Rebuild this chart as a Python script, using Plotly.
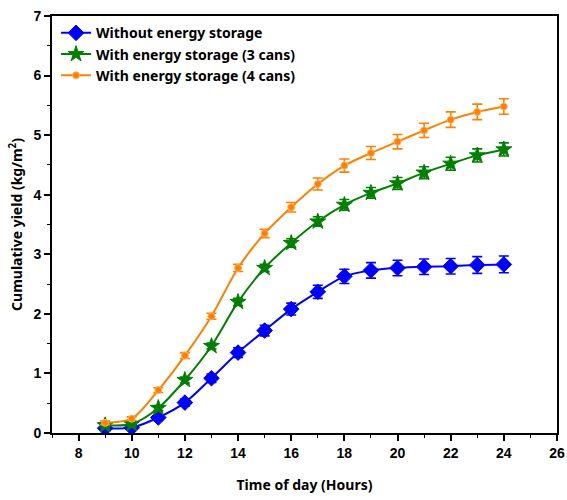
import plotly.graph_objects as go

hours = [9, 10, 11, 12, 13, 14, 15, 16, 17, 18, 19, 20, 21, 22, 23, 24]
no_storage = [0.08, 0.09, 0.26, 0.51, 0.92, 1.35, 1.72, 2.08, 2.37, 2.63, 2.73, 2.77, 2.79, 2.80, 2.82, 2.83]
no_storage_err = [0.03, 0.03, 0.05, 0.06, 0.07, 0.08, 0.09, 0.10, 0.11, 0.12, 0.13, 0.13, 0.13, 0.13, 0.14, 0.14]
storage3 = [0.13, 0.15, 0.42, 0.89, 1.46, 2.20, 2.77, 3.19, 3.55, 3.83, 4.03, 4.19, 4.37, 4.52, 4.66, 4.76]
storage3_err = [0.03, 0.03, 0.04, 0.05, 0.05, 0.06, 0.06, 0.07, 0.08, 0.09, 0.09, 0.10, 0.10, 0.11, 0.11, 0.11]
storage4 = [0.17, 0.24, 0.72, 1.30, 1.96, 2.77, 3.35, 3.79, 4.18, 4.49, 4.70, 4.89, 5.08, 5.26, 5.39, 5.48]
storage4_err = [0.03, 0.03, 0.04, 0.05, 0.05, 0.06, 0.07, 0.08, 0.10, 0.11, 0.11, 0.12, 0.12, 0.13, 0.13, 0.13]

names = ["Without energy storage", "With energy storage (3 cans)", "With energy storage (4 cans)"]
colors = ["#0000FF", "#008000", "#FF8000"]

fig = go.Figure()
series = [
    (no_storage, no_storage_err, "diamond", 12, colors[0]),
    (storage3, storage3_err, "star", 12, colors[1]),
    (storage4, storage4_err, "circle", 7, colors[2]),
]
for (y, e, sym, size, c), name in zip(series, names):
    fig.add_trace(go.Scatter(
        x=hours, y=y, name=name, mode="lines+markers",
        line=dict(color=c, width=2, shape="spline", smoothing=0.8),
        marker=dict(symbol=sym, size=size, color=c,
                    line=dict(width=1, color=c if sym != "circle" else "#FFB060")),
        error_y=dict(type="data", array=e, visible=True, color=c, thickness=1.6, width=5),
    ))

axis_font = dict(family="Liberation Sans, Arial", size=14, color="black", weight="bold")
title_font = dict(family="Noto Sans, Open Sans", size=14, color="black", weight="bold")

fig.update_layout(
    width=567, height=500,
    margin=dict(l=52, r=10, t=16, b=67),
    paper_bgcolor="white", plot_bgcolor="white",
    showlegend=True,
    legend=dict(x=0.008, y=0.997, xanchor="left", yanchor="top",
                bgcolor="rgba(0,0,0,0)", borderwidth=0,
                font=dict(family="Noto Sans, Open Sans", size=14, color="black", weight="bold"),
                tracegroupgap=0, itemwidth=30),
)
fig.update_xaxes(
    range=[7, 26], tickvals=[8, 10, 12, 14, 16, 18, 20, 22, 24, 26],
    ticks="outside", ticklen=6, tickwidth=1.5, tickcolor="black",
    minor=dict(ticks="outside", ticklen=3, tickwidth=1.2, tickcolor="black", dtick=1, tick0=7),
    showline=True, linecolor="black", linewidth=1.8, mirror=True,
    showgrid=False, zeroline=False, tickfont=axis_font, automargin=False,
    title=dict(text="Time of day (Hours)", font=title_font, standoff=20),
)
fig.update_yaxes(
    range=[0, 7], tickvals=[0, 1, 2, 3, 4, 5, 6, 7],
    ticks="outside", ticklen=6, tickwidth=1.5, tickcolor="black",
    minor=dict(ticks="outside", ticklen=3, tickwidth=1.2, tickcolor="black", dtick=0.5, tick0=0),
    showline=True, linecolor="black", linewidth=1.8, mirror=True,
    showgrid=False, zeroline=False, tickfont=axis_font, automargin=False,
    title=dict(text="Cumulative yield (kg/m<sup>2</sup>)", font=title_font, standoff=8),
)

# remove the browser's default 8px body margin so the 567x500 figure fills the window exactly
fig.write_html("out.html", config={"displayModeBar": False},
               post_script="document.body.style.margin='0';document.body.style.overflow='hidden';")
